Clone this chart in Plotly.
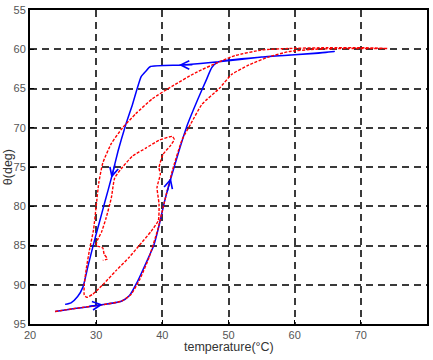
import plotly.graph_objects as go

# Blue curve (temperature °C, theta deg)
blue_x = [23.8, 27.0, 30.5, 33.8, 35.0, 36.3, 37.5, 38.7, 39.5, 40.3, 41.3, 42.5, 43.8, 45.3, 46.6, 47.5, 48.5,
          55.0, 60.0, 63.6, 66.0,
          60.0, 55.0, 48.5, 43.0, 38.2, 37.5, 36.8, 35.5, 34.4, 33.3, 32.3, 31.3, 30.5, 29.7, 28.8, 28.0, 27.2, 26.2, 25.3]
blue_y = [93.4, 93.0, 92.6, 92.1, 91.4, 89.5, 87.3, 85.0, 82.5, 79.5, 76.4, 73.0, 69.6, 66.5, 64.0, 62.3, 61.6,
          61.0, 60.7, 60.5, 60.3,
          60.7, 61.0, 61.6, 62.0, 62.2, 62.8, 63.5, 67.0, 69.8, 73.0, 76.4, 79.5, 82.0, 84.5, 87.5, 90.3, 91.5, 92.3, 92.5]

# Red dashed curve
red_x = [23.8, 27.0, 30.5, 33.8, 35.3, 36.6, 38.0, 39.3, 40.3, 41.5, 43.0, 44.3, 46.0, 48.6, 50.5, 53.1, 56.0, 59.1, 63.0, 68.0, 74.0,
         70.0, 65.0, 59.1, 55.0, 51.0, 48.6, 45.0, 41.5, 38.5, 36.0, 34.0, 32.3, 31.0, 30.4, 30.0, 29.6, 29.0, 28.5, 28.2, 28.2, 28.6,
         29.5, 31.0, 33.0, 35.0, 36.5, 38.3, 39.4, 39.5, 39.2, 39.7, 39.5, 40.1, 41.2, 41.8, 41.5,
         39.5, 37.5, 35.5, 34.0, 32.8, 32.3, 31.5, 30.8, 30.2, 30.0, 31.0, 31.2, 31.7, 31.0]
red_y = [93.4, 93.0, 92.6, 92.1, 91.2, 89.3, 86.5, 83.0, 79.5, 75.5, 71.5, 69.5, 67.0, 65.0, 63.2, 62.0, 61.0, 60.3, 60.0, 59.9, 59.9,
         59.8, 59.8, 59.9, 60.1, 60.8, 61.6, 63.0, 64.7, 66.3, 68.2, 70.0, 72.0, 74.5, 77.0, 80.0, 83.0, 85.5, 88.0, 90.0, 91.3, 91.6,
         91.2, 90.0, 88.2, 86.5, 85.0, 83.2, 81.8, 79.7, 77.6, 75.9, 75.1, 73.4, 72.3, 71.5, 71.1,
         71.6, 72.6, 73.6, 75.0, 76.4, 78.9, 81.5, 83.3, 84.3, 85.0, 85.3, 86.1, 86.7, 86.9]

x_ticks = [20, 30, 40, 50, 60, 70, 80]
y_ticks = [55, 60, 65, 70, 75, 80, 85, 90, 95]

# Arrow positions on the blue curve (tip) and tail pixel offsets
arrow_x = [31.0, 42.5, 32.3, 41.3]
arrow_y = [92.5, 62.0, 76.4, 76.4]
arrow_ax = [-15, 15, 4, -4]
arrow_ay = [2, 0, -15, 15]

fig = go.Figure()
fig.add_trace(go.Scatter(x=blue_x, y=blue_y, mode="lines",
                         line=dict(color="#0000ff", width=1.5, shape="spline", smoothing=0.5),
                         showlegend=False))
fig.add_trace(go.Scatter(x=red_x, y=red_y, mode="lines",
                         line=dict(color="#ff0000", width=1.4, dash="3px,1.5px", shape="spline", smoothing=0.5),
                         showlegend=False))

annotations = []
for xa, ya, axp, ayp in zip(arrow_x, arrow_y, arrow_ax, arrow_ay):
    annotations.append(dict(x=xa, y=ya, xref="x", yref="y", ax=axp, ay=ayp, text="",
                            showarrow=True, arrowhead=5, arrowsize=1.4, arrowwidth=1.2,
                            arrowcolor="#0000ff", standoff=0, startstandoff=0))

font_family = "Arial, Liberation Sans, Helvetica, sans-serif"
annotations.append(dict(text="temperature(°C)", xref="paper", yref="paper", x=0.5, y=-0.073,
                        showarrow=False, font=dict(family=font_family, size=12.5, color="#333"),
                        xanchor="center", yanchor="middle"))
annotations.append(dict(text="θ(deg)", xref="paper", yref="paper", x=-0.055, y=0.5,
                        showarrow=False, textangle=-90,
                        font=dict(family=font_family, size=12.5, color="#333"),
                        xanchor="center", yanchor="middle"))

axis_common = dict(showline=True, linecolor="black", linewidth=2, mirror=True,
                   showgrid=True, gridcolor="#3a3a3a", gridwidth=1.5, griddash="7px,5px",
                   ticks="inside", ticklen=4, tickcolor="black", tickwidth=1,
                   zeroline=False, tickfont=dict(family=font_family, size=11, color="#555"))

fig.update_layout(
    width=433, height=360,
    margin=dict(l=30, r=4, t=8, b=36, pad=0),
    paper_bgcolor="white", plot_bgcolor="white",
    xaxis=dict(range=[20, 80], tickvals=x_ticks, **axis_common),
    yaxis=dict(range=[95, 55], tickvals=y_ticks, **axis_common),
    annotations=annotations,
)

fig.write_html("out.html")
